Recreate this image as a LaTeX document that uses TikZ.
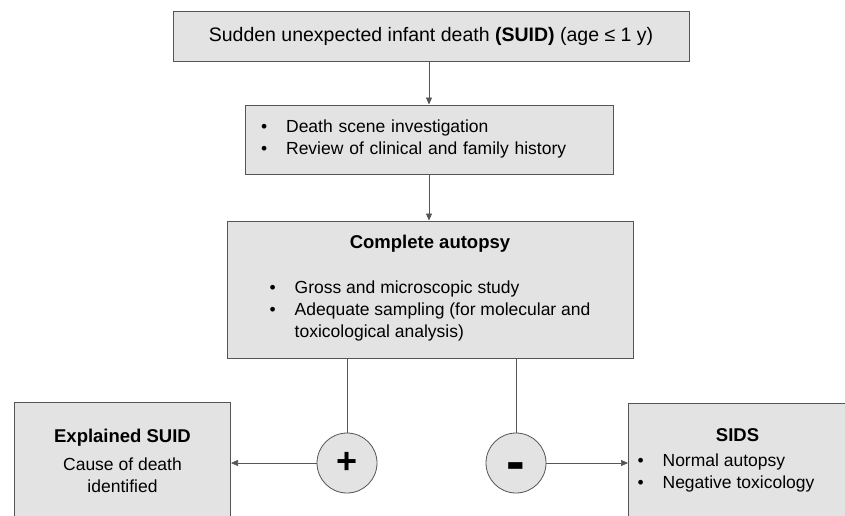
\documentclass[tikz,border=0pt]{standalone}
\usepackage{fontspec}
\setmainfont{Liberation Sans}
\usetikzlibrary{arrows.meta}
\definecolor{boxfill}{HTML}{E3E3E3}
\definecolor{boxline}{HTML}{555555}

\begin{document}
\begin{tikzpicture}[x=1pt,y=-1pt,
	box/.style={draw=boxline, fill=boxfill, line width=1pt, inner sep=0pt, font=\fontsize{17.5}{22}\selectfont},
	sign/.style={circle, draw=boxline, fill=boxfill, line width=0.8pt, minimum size=60pt, inner sep=0pt},
	link/.style={draw=boxline, line width=0.7pt},
	arr/.style={link, -{Triangle[length=7pt,width=6pt]}}]
			\useasboundingbox (0,0) rectangle (845,515);
			\clip (0,0) rectangle (845,515);
			
			\node[box, minimum width=516pt, minimum height=50pt, font=\fontsize{19.5}{22}\selectfont] (suid) at (431,36.5) {Sudden unexpected infant death \textbf{(SUID)} (age ≤ 1 y)};
			
			\node[box, minimum width=368pt, minimum height=69pt, text width=336pt, inner xsep=16pt, align=left] (scene) at (429,139.5) {\begin{tabular}{@{}l@{\hspace{19pt}}l@{}}
				\textbullet & Death scene investigation\\
				\textbullet & Review of clinical and family history
			\end{tabular}};
			
			\node[box, minimum width=406pt, minimum height=137pt, align=center] (autopsy) at (430,289.5) {{\fontsize{18.5}{22}\selectfont\bfseries Complete autopsy}\\[24pt]
				\begin{tabular}{@{}l@{\hspace{19pt}}l@{}}
				\textbullet & Gross and microscopic study\\
				\textbullet & Adequate sampling (for molecular and\\
				& toxicological analysis)
			\end{tabular}};
			
			\node[box, anchor=north west] (explained) at (14,402) {\begin{minipage}[c][150pt][t]{216pt}\centering
				\vspace*{27pt}{\fontsize{18.5}{22}\selectfont\bfseries Explained SUID\par}\vspace{6pt}
				Cause of death\\ identified
			\end{minipage}};
			
			\node[box, anchor=north west] (sids) at (628,403) {\begin{minipage}[c][150pt][t]{218pt}
				\vspace*{25pt}{\centering\fontsize{18.5}{22}\selectfont\bfseries SIDS\par}\vspace{8pt}
				\hspace*{9pt}\begin{tabular}{@{}l@{\hspace{19pt}}l@{}}
				\textbullet & Normal autopsy\\
				\textbullet & Negative toxicology
				\end{tabular}
			\end{minipage}};
			
			\node[sign, font=\fontsize{36}{36}\selectfont\bfseries] (plus) at (347,463) {+};
			\node[sign, font=\fontsize{56}{56}\selectfont\bfseries, text height=35pt, text depth=0pt] (minus) at (516,463) {-};
			
			\draw[arr] (suid.south -| scene) -- (scene);
			\draw[arr] (scene.south) -- (scene.south |- autopsy.north);
			\draw[link] (autopsy.south -| plus) -- (plus);
			\draw[link] (autopsy.south -| minus) -- (minus);
			\draw[arr] (plus) -- (plus -| explained.east);
			\draw[arr] (minus) -- (minus -| sids.west);
		\end{tikzpicture}
\end{document}
